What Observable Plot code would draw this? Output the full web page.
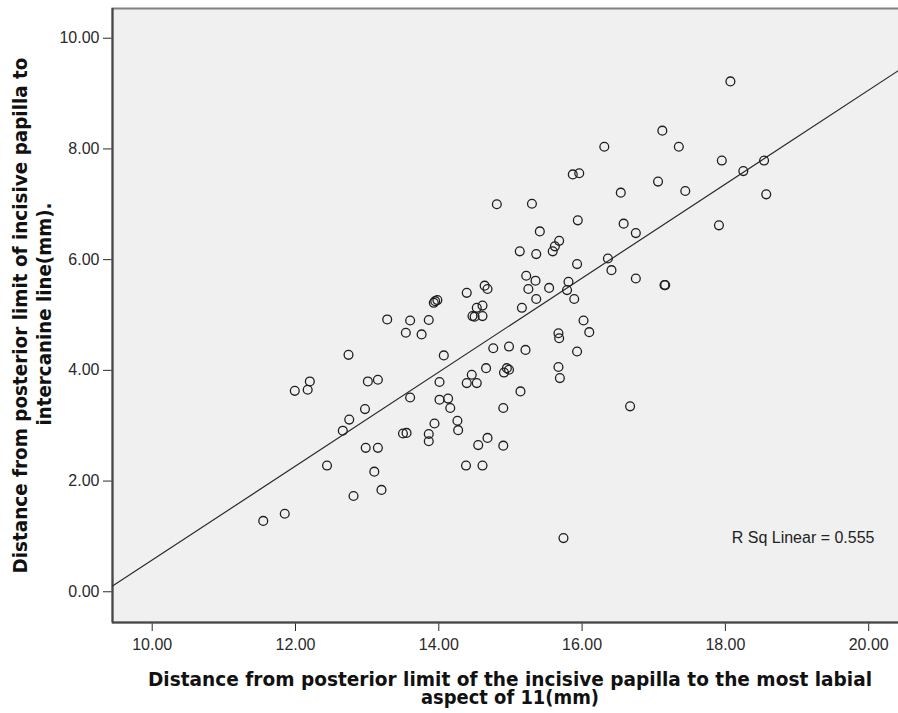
<!DOCTYPE html>
<html>
<head>
<meta charset="utf-8">
<style>
  html, body { margin: 0; padding: 0; background: #ffffff; }
  #chart svg { display: block; }
</style>
<script src="https://cdn.jsdelivr.net/npm/d3@7"></script>
<script src="https://cdn.jsdelivr.net/npm/@observablehq/plot@0.6"></script>
</head>
<body>
<div id="chart"></div>
<script>
// Distance from posterior limit of the incisive papilla to the most labial aspect of 11 (mm)
const papillaToLabial = [
  11.55, 11.85, 11.99, 12.17, 12.20, 12.44, 12.66, 12.74, 12.75, 12.81,
  12.97, 12.98, 13.01, 13.10, 13.15, 13.15, 13.20, 13.28, 13.50, 13.55,
  13.54, 13.60, 13.60, 13.76, 13.86, 13.86, 13.86, 13.93, 13.95, 13.98,
  13.94, 14.01, 14.01, 14.13, 14.16, 14.07, 14.26, 14.27, 14.38, 14.39,
  14.39, 14.46, 14.53, 14.47, 14.50, 14.53, 14.61, 14.61, 14.55, 14.61,
  14.64, 14.68, 14.66, 14.68, 14.76, 14.81, 14.90, 14.90, 14.91, 14.95,
  14.98, 14.98, 15.13, 15.14, 15.16, 15.21, 15.22, 15.25, 15.30, 15.35,
  15.36, 15.36, 15.41, 15.54, 15.59, 15.62, 15.68, 15.67, 15.68, 15.67,
  15.69, 15.74, 15.79, 15.81, 15.87, 15.89, 15.93, 15.93, 15.94, 15.96,
  16.02, 16.10, 16.31, 16.36, 16.41, 16.54, 16.58, 16.67, 16.75, 16.75,
  17.06, 17.12, 17.15, 17.16, 17.35, 17.44, 17.91, 17.95, 18.07, 18.25,
  18.54, 18.57
];

// Distance from posterior limit of incisive papilla to intercanine line (mm)
const papillaToIntercanine = [
  1.28, 1.41, 3.63, 3.65, 3.80, 2.28, 2.91, 4.28, 3.11, 1.73,
  3.30, 2.60, 3.80, 2.17, 3.83, 2.60, 1.84, 4.92, 2.86, 2.87,
  4.68, 4.90, 3.51, 4.65, 4.91, 2.85, 2.72, 5.22, 5.25, 5.27,
  3.04, 3.79, 3.47, 3.49, 3.32, 4.27, 3.09, 2.92, 2.28, 5.40,
  3.77, 3.92, 3.77, 4.98, 4.97, 5.13, 5.17, 4.98, 2.65, 2.28,
  5.53, 5.47, 4.04, 2.78, 4.40, 7.00, 3.32, 2.64, 3.96, 4.04,
  4.01, 4.43, 6.15, 3.62, 5.13, 4.37, 5.71, 5.47, 7.01, 5.62,
  6.10, 5.29, 6.51, 5.49, 6.15, 6.24, 6.34, 4.67, 4.58, 4.06,
  3.86, 0.97, 5.45, 5.60, 7.54, 5.29, 5.92, 4.34, 6.71, 7.56,
  4.90, 4.69, 8.04, 6.02, 5.81, 7.21, 6.65, 3.35, 6.48, 5.66,
  7.41, 8.33, 5.54, 5.54, 8.04, 7.24, 6.62, 7.79, 9.22, 7.60,
  7.79, 7.18
];

const xTicks = [10, 12, 14, 16, 18, 20];
const yTicks = [0, 2, 4, 6, 8, 10];
const xDomain = [9.446, 20.43];
const yDomain = [-0.555, 10.537];

// Fitted linear trend and its R squared
const fitSlope = 0.849;
const fitIntercept = -7.917;
const rSquared = 0.555;

const xTitle = [
  "Distance from posterior limit of the incisive papilla to the most labial",
  "aspect of 11(mm)"
];
const yTitle = [
  "Distance from posterior limit of incisive papilla to",
  "intercanine line(mm)."
];
// Rendered widths of the title lines (condensed bold look)
const titleWidths = {
  [xTitle[0]]: 724,
  [xTitle[1]]: 178,
  [yTitle[0]]: 516,
  [yTitle[1]]: 223
};

const points = papillaToLabial.map((x, i) => ({x, y: papillaToIntercanine[i]}));
const fitLine = xDomain.map(x => ({x, y: fitIntercept + fitSlope * x}));
const fmt = d3.format(".2f");

const titleStyle = {
  text: d => d,
  fontFamily: "'DejaVu Sans', Verdana, sans-serif",
  fontWeight: "bold",
  fontSize: 19,
  fill: "#111",
  lineAnchor: "middle",
  textAnchor: "middle"
};

const chart = Plot.plot({
  width: 898,
  height: 713,
  marginLeft: 112,
  marginRight: -1,
  marginTop: 8,
  marginBottom: 91,
  style: {
    fontFamily: "'Liberation Sans', Arial, sans-serif",
    fontSize: "16px",
    color: "#2a2a2a",
    background: "#ffffff"
  },
  x: {domain: xDomain, ticks: xTicks, tickFormat: fmt, tickSize: 9, tickPadding: 7, label: null},
  y: {domain: yDomain, ticks: yTicks, tickFormat: fmt, tickSize: 9, tickPadding: 4, label: null},
  marks: [
    Plot.frame({fill: "#f0f0f0", stroke: "#808080", strokeWidth: 2}),
    Plot.ruleX([xDomain[0]], {stroke: "#474747", strokeWidth: 2}),
    Plot.ruleY([yDomain[0]], {stroke: "#474747", strokeWidth: 2}),
    Plot.line(fitLine, {x: "x", y: "y", stroke: "#2b2b2b", strokeWidth: 1.2, clip: true}),
    Plot.dot(points, {x: "x", y: "y", r: 4.4, stroke: "#1e1e1e", strokeWidth: 1.3, fill: "none"}),
    Plot.text([`R Sq Linear = ${rSquared}`], {
      frameAnchor: "bottom-right", dx: -25, dy: -85,
      textAnchor: "end", lineAnchor: "middle",
      fontSize: 16, fill: "#222"
    }),
    Plot.text([xTitle[0]], {...titleStyle, frameAnchor: "bottom", dx: 4, dy: 57.9}),
    Plot.text([xTitle[1]], {...titleStyle, frameAnchor: "bottom", dx: 4, dy: 75.4}),
    Plot.text([yTitle[0]], {...titleStyle, frameAnchor: "left", rotate: -90, dx: -91.4, dy: 0}),
    Plot.text([yTitle[1]], {...titleStyle, frameAnchor: "left", rotate: -90, dx: -67.6, dy: -1.5})
  ]
});

// Fit each title line to its width with condensed glyphs
chart.querySelectorAll("text").forEach(t => {
  const w = titleWidths[t.textContent];
  if (w) {
    t.setAttribute("textLength", w);
    t.setAttribute("lengthAdjust", "spacingAndGlyphs");
  }
});

document.getElementById("chart").appendChild(chart);
</script>
</body>
</html>
